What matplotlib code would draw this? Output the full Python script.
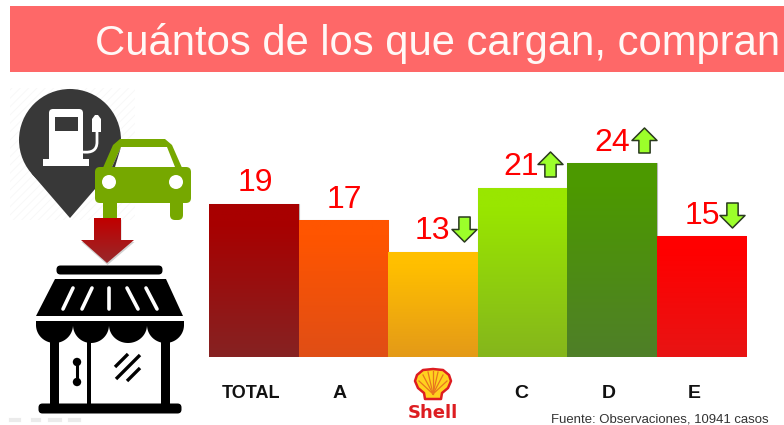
import matplotlib
matplotlib.use("Agg")
import matplotlib.pyplot as plt
import numpy as np
from matplotlib.colors import LinearSegmentedColormap
from matplotlib.patches import Circle, FancyBboxPatch, Polygon, Rectangle, PathPatch
from matplotlib.path import Path

plt.rcParams["font.family"] = ["Liberation Sans", "DejaVu Sans"]
plt.rcParams["hatch.linewidth"] = 0.6

title_text = "Cuántos de los que cargan, compran"
source_text = "Fuente: Observaciones, 10941 casos"
categories = ["TOTAL", "A", "Shell", "C", "D", "E"]
values = [19, 17, 13, 21, 24, 15]
# 1 = up, -1 = down, 0 = no arrow
changes = [0, 0, -1, 1, 1, -1]
top_colors = ["#A80000", "#FF5500", "#FFBF00", "#99E600", "#4C9900", "#FF0000"]
bottom_colors = ["#862222", "#E04E16", "#E49A18", "#85B61C", "#4F7F28", "#E81414"]

W, H = 784, 425
PX = 0.72  # points per pixel at dpi 100
fig = plt.figure(figsize=(W / 100, H / 100), dpi=100, facecolor="white")

# Overlay in pixel coords for the banner and the icons.
deco = fig.add_axes([0, 0, 1, 1], zorder=1)
deco.axis("off")

# Bars.
BASE_Y, TOP_Y = 357, 109
ax = fig.add_axes([209 / W, 1 - BASE_Y / H, 537 / W, (BASE_Y - TOP_Y) / H], zorder=2)
ax.patch.set_alpha(0)
bars = ax.bar(range(len(values)), values, width=1.0, color="none", edgecolor="#B8B8B8", linewidth=0.8)
for bar, c1, c2 in zip(bars, top_colors, bottom_colors):
    cmap = LinearSegmentedColormap.from_list("g", [(0, c1), (0.12, c1), (1, c2)])
    im = ax.imshow(np.linspace(0, 1, 64).reshape(-1, 1), cmap=cmap, aspect="auto", zorder=2,
                   extent=[bar.get_x(), bar.get_x() + bar.get_width(), 0, bar.get_height()])
    im.set_clip_path(bar)
ax.set_xlim(-0.5, len(values) - 0.5)
ax.set_ylim(0, (BASE_Y - TOP_Y) / 8.07)
ax.axis("off")

# Value labels, offset in pixels from the top centre of the bars.
label_dx = [1.5, 1, 0, -1, 0, 1]
label_dy = [21, 20, 21, 21, 20, 20]
for i, v in enumerate(values):
    ax.annotate(str(v), (i, v), xytext=(label_dx[i] * PX, label_dy[i] * PX), textcoords="offset points",
                ha="center", va="center", color="#FF0000", fontsize=23, zorder=5)

# Little arrows beside the labels.
arrow_dx = [0, 0, 31, 28, 32.5, 30.5]
arrow_dy = [0, 0, 23, 24, 23, 21]
up = Path([(-0.45, -1), (0.45, -1), (0.45, 0), (1, 0), (0, 1), (-1, 0), (-0.45, 0), (-0.45, -1)], closed=True)
down = Path([(-0.45, 1), (0.45, 1), (0.45, 0), (1, 0), (0, -1), (-1, 0), (-0.45, 0), (-0.45, 1)], closed=True)
for i, ch in enumerate(changes):
    if ch == 0:
        continue
    trans = ax.transData + matplotlib.transforms.ScaledTranslation(arrow_dx[i] * PX / 72, arrow_dy[i] * PX / 72, fig.dpi_scale_trans)
    ax.plot([i], [values[i]], marker=up if ch > 0 else down, markersize=18, markerfacecolor="#9CFF2A",
            markeredgecolor="#2A3A1E", markeredgewidth=1.1, transform=trans, clip_on=False, zorder=6, linestyle="none")

# Category labels.
cat_dx = [-3, -4, 0, -1, -3, -7]
for i, cat in enumerate(categories):
    if cat == "Shell":
        continue
    ax.annotate(cat, (i, 0), xytext=(cat_dx[i] * PX, -37 * PX), textcoords="offset points",
                ha="center", va="center", fontweight="bold", color="#111111", fontsize=13 if cat == "TOTAL" else 14)

# Banner.
deco.add_patch(Rectangle((10, 5.5), 774, 66, facecolor="#FE6868", edgecolor="none"))
deco.text(95, 55, title_text, color="#FFF8F6", fontsize=30.1, va="baseline", ha="left", clip_on=True)

# Pin with fuel pump.
deco.add_patch(Rectangle((10, 88), 125, 132, facecolor="white", edgecolor="#F7F7F7", hatch="////", linewidth=0))
deco.add_patch(Circle((70, 140), 51, facecolor="#383838", edgecolor="none"))
deco.add_patch(Polygon([(31.4, 173.3), (108.6, 173.3), (70, 218)], facecolor="#383838", edgecolor="none"))
deco.add_patch(FancyBboxPatch((51, 111), 30, 50, boxstyle="round,pad=2,rounding_size=4", facecolor="white", edgecolor="none"))
deco.add_patch(Rectangle((43, 159), 46, 7, facecolor="white", edgecolor="none"))
deco.add_patch(Rectangle((55, 117), 23, 14, facecolor="#383838", edgecolor="none"))
hose = Path([(83, 152), (92, 153), (97, 150), (97, 142), (97, 130)], [Path.MOVETO, Path.CURVE4, Path.CURVE4, Path.CURVE4, Path.LINETO])
deco.add_patch(PathPatch(hose, facecolor="none", edgecolor="white", linewidth=2))
deco.add_patch(Polygon([(92, 132), (101, 132), (101, 119), (98, 115), (95, 115), (92, 119)], facecolor="white", edgecolor="none"))

# Car.
green = "#76A800"
deco.add_patch(Polygon([(102, 170), (113, 145), (120, 139), (165, 139), (172, 145), (183, 170)], facecolor=green, edgecolor="none"))
deco.add_patch(FancyBboxPatch((98, 170), 90, 30, boxstyle="round,pad=3,rounding_size=5", facecolor=green, edgecolor="none"))
deco.add_patch(Polygon([(112, 167), (121, 147), (167, 147), (175, 167)], facecolor="white", edgecolor="none"))
deco.add_patch(Polygon([(112, 167), (115, 167), (121, 147)], facecolor="#383838", edgecolor="none"))
deco.add_patch(Circle((109, 182), 7, facecolor="white", edgecolor="none"))
deco.add_patch(Circle((176, 182), 7, facecolor="white", edgecolor="none"))
deco.add_patch(Rectangle((103, 200), 14, 18, facecolor=green, edgecolor="none"))
deco.add_patch(FancyBboxPatch((172, 200), 9, 18, boxstyle="round,pad=2,rounding_size=5", facecolor=green, edgecolor="none"))

# Red arrow with soft shadow.
arrow_pts = [(94, 218), (121, 218), (121, 240), (134, 240), (107, 263), (81, 240), (94, 240)]
deco.add_patch(Polygon([(x + 0.5, y + 2) for x, y in arrow_pts], facecolor="#999999", alpha=0.45, edgecolor="none"))
arrow_patch = Polygon(arrow_pts, facecolor="none", edgecolor="none")
deco.add_patch(arrow_patch)
arrow_cmap = LinearSegmentedColormap.from_list("r", ["#C00000", "#98282A"])
arrow_im = deco.imshow(np.linspace(0, 1, 32).reshape(-1, 1), cmap=arrow_cmap, aspect="auto",
                       extent=[81, 134, 263, 218], zorder=1.2)
arrow_im.set_clip_path(arrow_patch)

# Store.
deco.add_patch(FancyBboxPatch((58, 267), 103, 6, boxstyle="round,pad=1.5,rounding_size=4", facecolor="black", edgecolor="none"))
deco.add_patch(Polygon([(55, 279), (166, 279), (183, 316), (36, 316)], facecolor="black", edgecolor="none"))
for x0, y0, x1, y1 in [(63, 309, 73, 288), (82, 309, 92, 288), (109, 309, 109, 288), (138, 309, 127, 288), (157, 309, 146, 288)]:
    deco.plot([x0, x1], [y0, y1], color="white", linewidth=2.6, solid_capstyle="round")
deco.add_patch(Rectangle((36, 321), 148, 5, facecolor="black", edgecolor="none"))
t = np.linspace(0, np.pi, 40)
for a, b in [(36, 73), (73, 109), (109, 147), (147, 184)]:
    xs = (a + b) / 2 + (b - a) / 2 * np.cos(t)
    ys = 325 + 18 * np.sin(t)
    deco.add_patch(Polygon(np.column_stack([xs, ys]), facecolor="black", edgecolor="none"))
for a, b in [(50, 59), (87, 91.5), (161, 170)]:
    deco.add_patch(Rectangle((a, 335), b - a, 72, facecolor="black", edgecolor="none"))
deco.add_patch(FancyBboxPatch((40, 405), 140, 7, boxstyle="round,pad=1.5,rounding_size=4", facecolor="black", edgecolor="none"))
deco.plot([77, 77], [362, 382], color="black", linewidth=2.2)
deco.add_patch(Circle((77, 362), 4.2, facecolor="black", edgecolor="none"))
deco.add_patch(Circle((77, 382), 4.2, facecolor="black", edgecolor="none"))
for x0, y0, x1, y1 in [(115, 367, 128, 354), (116, 379, 140, 355), (127, 381, 140, 368)]:
    deco.plot([x0, x1], [y0, y1], color="black", linewidth=2.4, solid_capstyle="butt")

# Faint slide controls at the bottom left.
for x0, x1 in [(11, 19), (33, 39), (50, 60), (70, 79)]:
    deco.plot([x0, x1], [420, 420], color="#EBEBEB", linewidth=3)

# Shell logo.
shell_pts = [(433, 369), (443, 370), (449, 375), (451, 381), (448, 388), (442, 393), (441, 399),
             (425, 399), (424, 393), (418, 388), (415, 381), (417, 375), (423, 370)]
deco.add_patch(Polygon(shell_pts, closed=True, facecolor="#FFD21E", edgecolor="#DD1D21", linewidth=1.8, joinstyle="round"))
for tx, ty in [(419, 381), (423, 375), (428, 372), (433, 371), (438, 372), (443, 375), (447, 381)]:
    deco.plot([433, tx], [394, ty], color="#E8761E", linewidth=0.9)
deco.text(433, 413, "Shell", color="#DD1D21", fontsize=13, fontweight="bold", family=["DejaVu Sans"], ha="center", va="center")

# Source.
deco.text(551, 419, source_text, color="#333333", fontsize=9.43, ha="left", va="center")

deco.set_xlim(0, W)
deco.set_ylim(H, 0)
fig.savefig("out.png", dpi=100)
